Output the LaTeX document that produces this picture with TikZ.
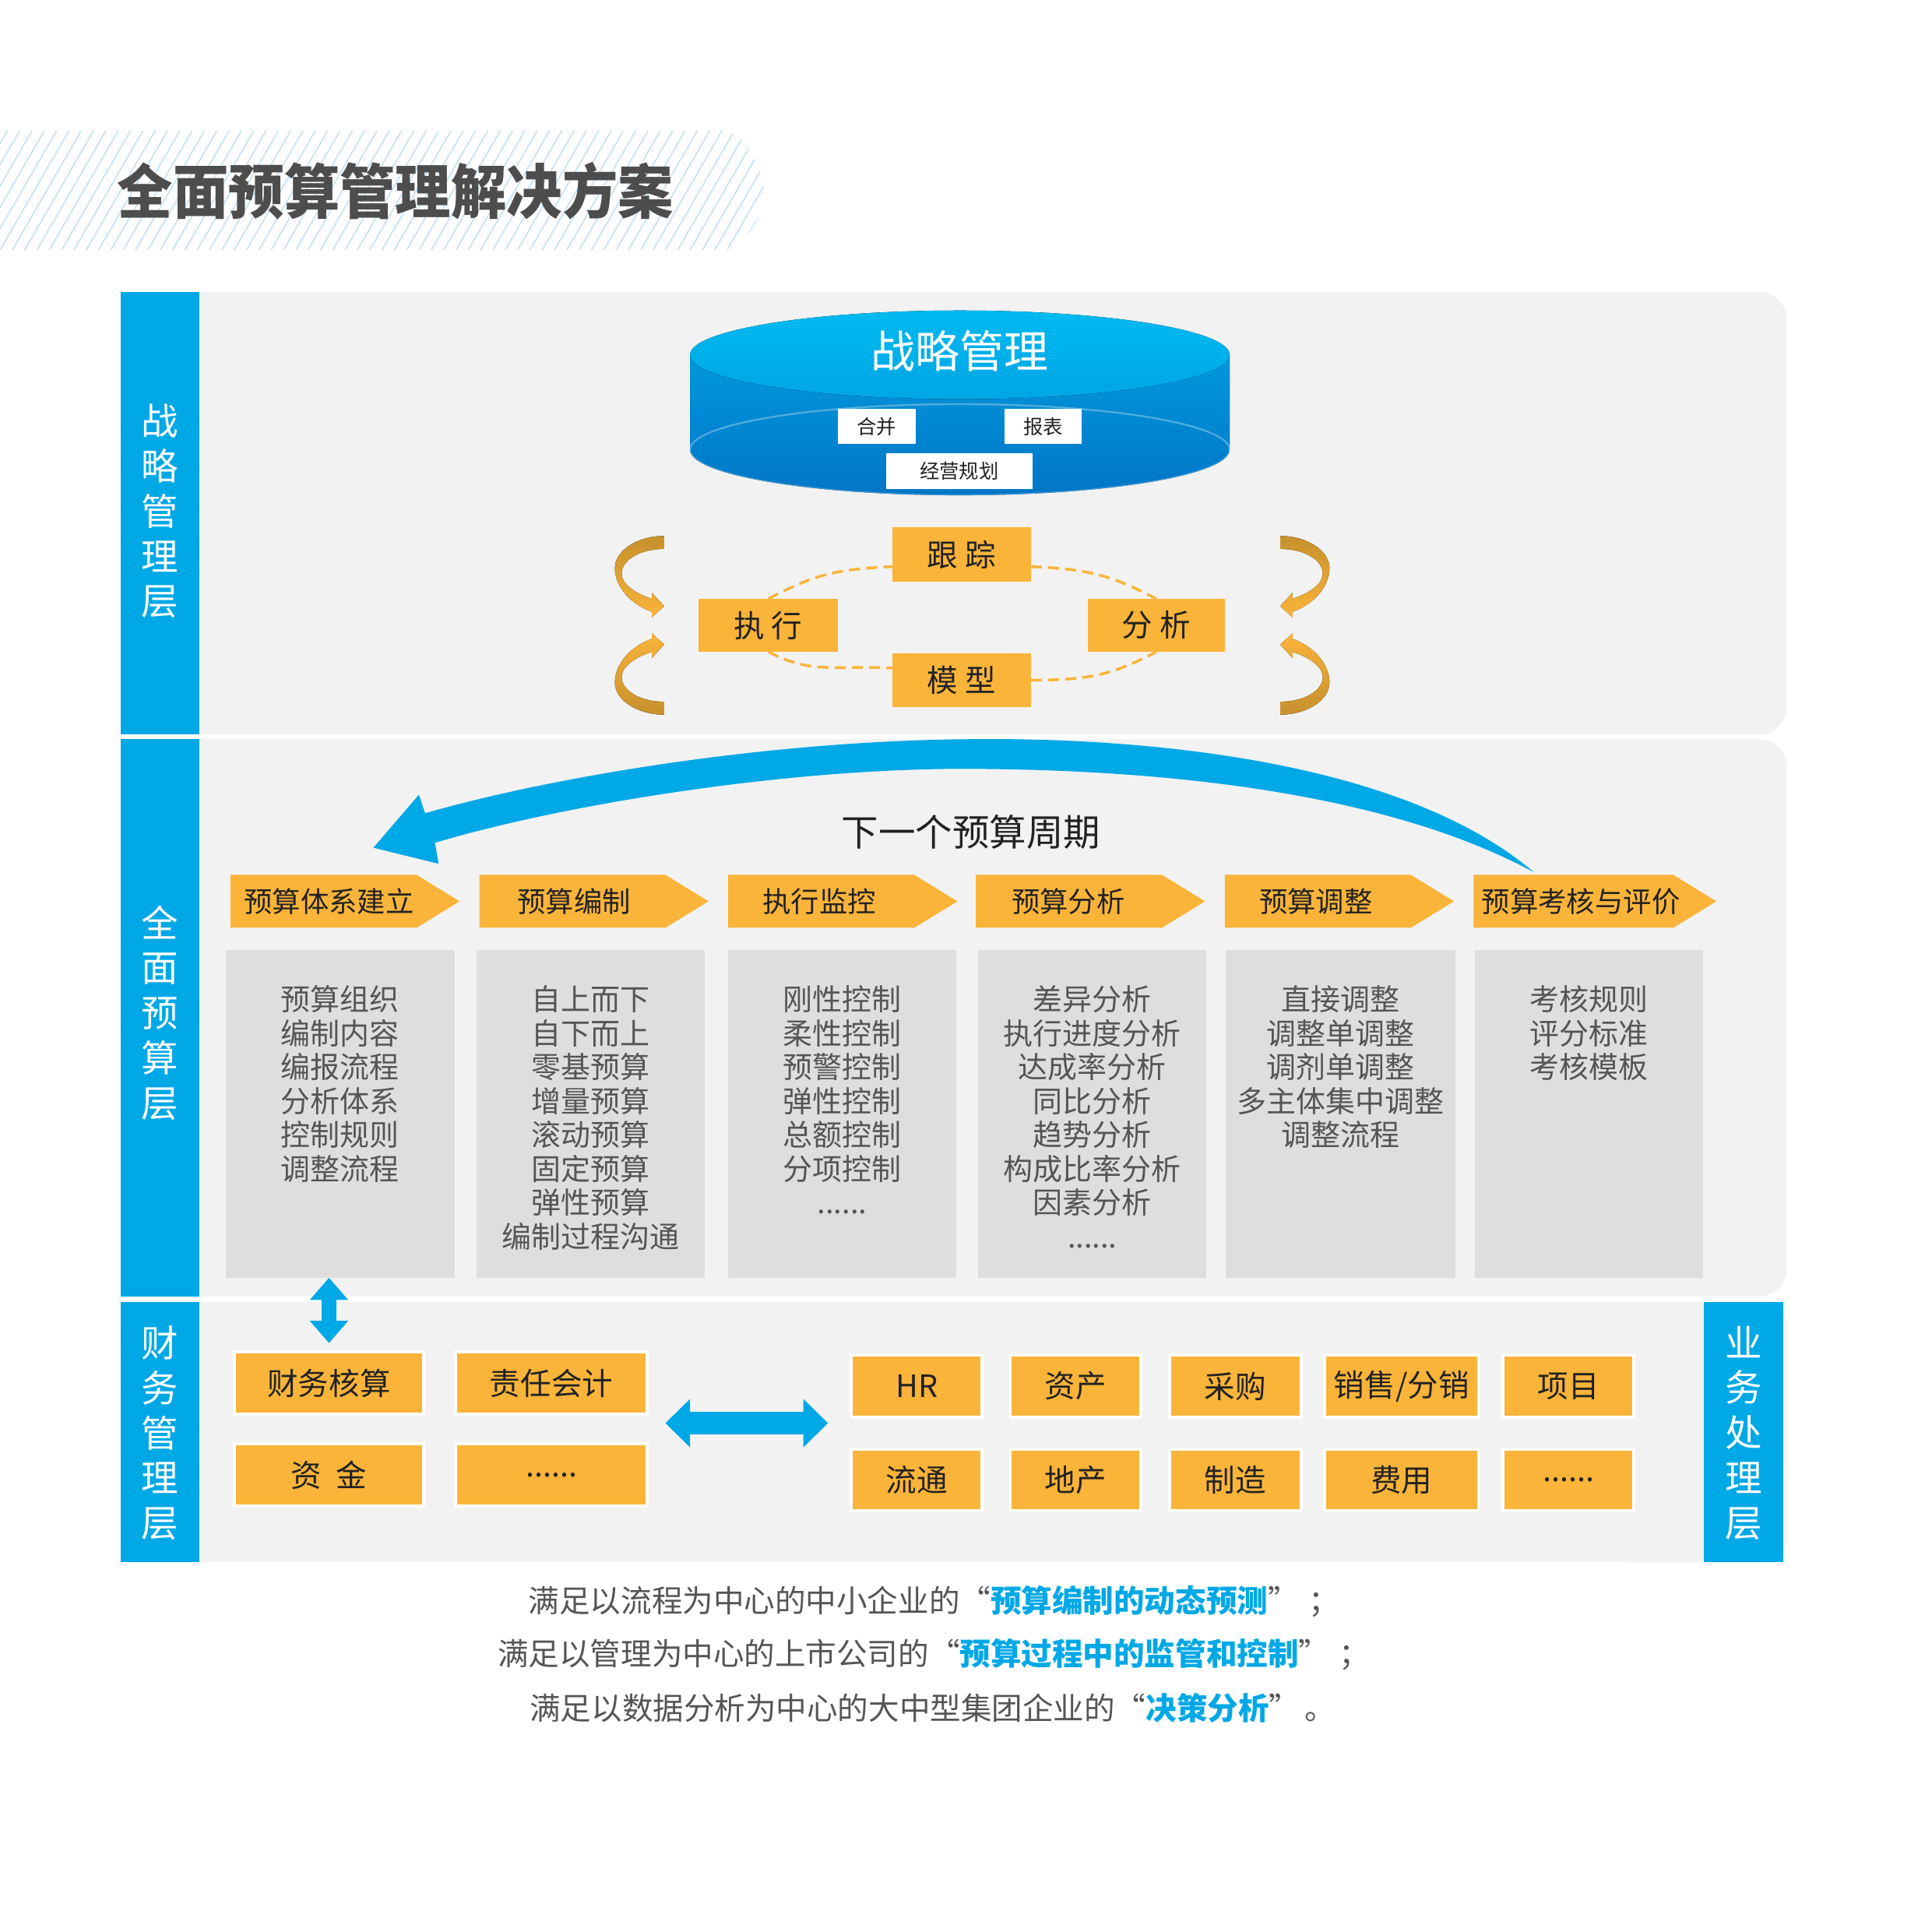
\documentclass[tikz,border=0pt]{standalone}
\usepackage{fontspec}
\newfontfamily\cjk{Noto Sans CJK SC}
\usetikzlibrary{arrows.meta,calc}
\definecolor{tblue}{RGB}{0,168,230}
\definecolor{torange}{RGB}{250,180,58}
\definecolor{panelgray}{RGB}{242,242,242}
\definecolor{boxgray}{RGB}{222,222,222}
\definecolor{darktext}{RGB}{34,34,34}
\definecolor{graytext}{RGB}{85,85,85}
\definecolor{titlegray}{RGB}{77,77,77}
\definecolor{hatchblue}{RGB}{182,221,242}
\definecolor{gold}{RGB}{198,144,44}
\definecolor{cyltop}{RGB}{0,186,240}
\definecolor{cylside}{RGB}{0,152,220}
\definecolor{cyldark}{RGB}{0,118,198}
\newcommand\fsz[2]{\fontsize{#1}{#2}\selectfont}
% crescent arrow: origin (#1,#2), x sign #3, y sign #4, top colour #5, bottom colour #6
\newcommand\cres[6]{%
\fill[top color=#5,bottom color=#6,middle color=#5!50!#6]
({#1+#3*0},{#2+#4*(-28)})
.. controls ({#1+#3*(-22)},{#2+#4*(-28)}) and ({#1+#3*(-40)},{#2+#4*(-16)}) .. ({#1+#3*(-40)},{#2+#4*(-2)})
.. controls ({#1+#3*(-40)},{#2+#4*14}) and ({#1+#3*(-26)},{#2+#4*28}) .. ({#1+#3*(-10)},{#2+#4*33.5})
-- ({#1+#3*(-10)},{#2+#4*38})
-- ({#1+#3*0},{#2+#4*29})
-- ({#1+#3*(-10)},{#2+#4*18})
-- ({#1+#3*(-10)},{#2+#4*23})
.. controls ({#1+#3*(-22)},{#2+#4*19}) and ({#1+#3*(-34)},{#2+#4*12}) .. ({#1+#3*(-34.5)},{#2+#4*3})
.. controls ({#1+#3*(-35)},{#2+#4*(-8)}) and ({#1+#3*(-20)},{#2+#4*(-17.5)}) .. ({#1+#3*0},{#2+#4*(-17.5)})
-- cycle;}
\newcommand\chev[5]{%
\fill[torange] (#2,710) -- ({#2+#3-35},710) -- ({#2+#3},731.5) -- ({#2+#3-35},753) -- (#2,753) -- cycle;
\node[chevtxt] (#1) at (#4,731.5) {#5};}
\begin{document}
\begin{tikzpicture}[x=1pt,y=-1pt,
  every node/.style={inner sep=0pt,outer sep=0pt},
  vlabel/.style={font=\cjk\fsz{30}{36.5},text=white,align=center},
  chevtxt/.style={font=\cjk\fsz{23}{26},text=darktext},
  cbox/.style={fill=boxgray,minimum width=186pt,minimum height=266pt},
  content/.style={font=\cjk\fsz{24}{27.5},text=graytext,align=center,anchor=north},
  loopbox/.style={fill=torange,minimum width=112pt,minimum height=44pt,font=\cjk\fsz{25}{28},text=darktext},
  wbox/.style={fill=white,minimum height=28pt,font=\cjk\fsz{16}{18},text=darktext},
  obox/.style={fill=torange,draw=white,line width=2.5pt,font=\cjk\fsz{25}{28},text=darktext,minimum height=51pt},
  dashloop/.style={torange,dash pattern=on 9pt off 5pt,line width=2.2pt},
  fatv/.style={tblue,line width=12pt,{Triangle[length=18pt,width=30pt]}-{Triangle[length=18pt,width=30pt]}},
  fath/.style={tblue,line width=18pt,{Triangle[length=20pt,width=38pt]}-{Triangle[length=20pt,width=38pt]}}]
\useasboundingbox (0,0) rectangle (1568,1568);
\fill[white] (0,0) rectangle (1568,1568);
% title band
\begin{scope}
\clip (0,106) -- (585,106) .. controls (606,106) and (620,140) .. (620,155) .. controls (620,172) and (606,203) .. (585,203) -- (0,203) -- cycle;
\foreach \i in {-120,-110,...,650} \draw[hatchblue,line width=0.8pt] (\i,203) -- ({\i+56},106);
\end{scope}
\node[font=\cjk\bfseries\fsz{48}{52},text=titlegray] (title) at (321,155) {\scalebox{0.94}[1]{全面预算管理解决方案}};
% panels
\fill[panelgray,rounded corners=22pt] (140,237) rectangle (1450,596);
\fill[panelgray,rounded corners=22pt] (140,600) rectangle (1450,1052);
\fill[panelgray!70!white,rounded corners=22pt] (1300,1057) rectangle (1452,1268);
\fill[panelgray] (162,1057) rectangle (1383,1268);
\fill[tblue] (98,237) rectangle (162,596);
\fill[tblue] (98,600) rectangle (162,1052);
\fill[tblue] (98,1057) rectangle (162,1268);
\fill[tblue] (1383,1057) rectangle (1447,1268);
\node[vlabel] (l1) at (130,415) {战\\略\\管\\理\\层};
\node[vlabel] (l2) at (130,822) {全\\面\\预\\算\\层};
\node[vlabel] (l3) at (130,1163) {财\\务\\管\\理\\层};
\node[vlabel] (l4) at (1415,1163) {业\\务\\处\\理\\层};
% cylinder
\fill[top color=cylside,bottom color=cyldark] (560,288) -- (560,365) arc[start angle=180,end angle=0,x radius=219,y radius=37] -- (998,288) -- cycle;
\draw[white,opacity=0.3,line width=1.5pt] (560,365) arc[start angle=180,end angle=360,x radius=219,y radius=37];
\draw[white,opacity=0.25,line width=1.5pt] (560,365) arc[start angle=180,end angle=0,x radius=219,y radius=37];
\fill[top color=cyltop,bottom color=cylside!60!cyltop] (779,288) ellipse[x radius=219,y radius=36];
\node[font=\cjk\fsz{36}{40},text=white] (zl) at (779,285) {战略管理};
\node[wbox,minimum width=63pt] (hb) at (711.5,346) {合并};
\node[wbox,minimum width=63pt] (bb) at (846.5,346) {报表};
\node[wbox,minimum width=119pt,minimum height=29pt] (jy) at (778.5,382.5) {经营规划};
% loop
\node[loopbox] (gz) at (780.5,450) {跟 踪};
\node[loopbox,minimum width=113pt,minimum height=43pt] (zx) at (623.5,507.5) {执 行};
\node[loopbox,minimum width=111pt,minimum height=43pt] (fx) at (938.5,507.5) {分 析};
\node[loopbox] (mx) at (780.5,552) {模 型};
\draw[dashloop] (zx.north) .. controls +(35,-18) and +(-50,2) .. (gz.190);
\draw[dashloop] (gz.-10) .. controls +(50,2) and +(-35,-18) .. (fx.north);
\draw[dashloop] (zx.south) .. controls +(35,18) and +(-50,-2) .. (mx.170);
\draw[dashloop] (mx.east) .. controls +(50,0) and +(-35,18) .. (fx.south);
\node[loopbox] at (gz) {跟 踪};
\node[loopbox,minimum width=113pt,minimum height=43pt] at (zx) {执 行};
\node[loopbox,minimum width=111pt,minimum height=43pt] at (fx) {分 析};
\node[loopbox] at (mx) {模 型};
\cres{539}{463}{1}{1}{gold}{torange}
\cres{539}{552}{1}{(-1)}{torange}{gold}
\cres{1039}{463}{(-1)}{1}{gold}{torange}
\cres{1039}{552}{(-1)}{(-1)}{torange}{gold}
% big curved arrow
\fill[tblue] (1245,708) .. controls (1130,610) and (900,598) .. (780,600) .. controls (620,602) and (450,630) .. (345,660) -- (340,645) -- (303,688) -- (356,701) -- (353,684) .. controls (460,652) and (640,624) .. (780,624) .. controls (930,624) and (1120,640) .. (1245,708) -- cycle;
\node[font=\cjk\fsz{30}{34},text=darktext] (next) at (788,675) {下一个预算周期};
% chevrons
\chev{s1}{187}{186}{267}{预算体系建立}
\chev{s2}{389}{186}{466}{预算编制}
\chev{s3}{591}{186}{665}{执行监控}
\chev{s4}{792}{186}{867}{预算分析}
\chev{s5}{994}{186}{1068}{预算调整}
\chev{s6}{1196}{197}{1283}{预算考核与评价}
% content boxes
\node[cbox] (c1) at (276,904) {};
\node[cbox,minimum width=185pt] (c2) at (479.5,904) {};
\node[cbox,minimum width=185pt] (c3) at (683.5,904) {};
\node[cbox,minimum width=185pt] (c4) at (886.5,904) {};
\node[cbox] (c5) at (1088,904) {};
\node[cbox,minimum width=185pt] (c6) at (1289.5,904) {};
\node[content] (t1) at ($(c1.north)+(0,29)$) {预算组织\\编制内容\\编报流程\\分析体系\\控制规则\\调整流程};
\node[content] (t2) at ($(c2.north)+(0,29)$) {自上而下\\自下而上\\零基预算\\增量预算\\滚动预算\\固定预算\\弹性预算\\编制过程沟通};
\node[content] (t3) at ($(c3.north)+(0,29)$) {刚性控制\\柔性控制\\预警控制\\弹性控制\\总额控制\\分项控制\\......};
\node[content] (t4) at ($(c4.north)+(0,29)$) {差异分析\\执行进度分析\\达成率分析\\同比分析\\趋势分析\\构成比率分析\\因素分析\\......};
\node[content] (t5) at ($(c5.north)+(0,29)$) {直接调整\\调整单调整\\调剂单调整\\多主体集中调整\\调整流程};
\node[content] (t6) at ($(c6.north)+(0,29)$) {考核规则\\评分标准\\考核模板};
% bottom boxes
\node[obox,minimum width=154pt] (fa1) at (267,1122.5) {财务核算};
\node[obox,minimum width=155pt] (zr) at (447.5,1122.5) {责任会计};
\node[obox,minimum width=154pt,minimum height=50pt] (zj) at (267,1197) {资\hspace{12pt}金};
\node[obox,minimum width=155pt,minimum height=50pt] (dt1) at (447.5,1197) {......};
\node[obox,minimum width=106pt,minimum height=50pt] (hr) at (744,1125) {HR};
\node[obox,minimum width=106pt,minimum height=50pt] (zc) at (873,1125) {资产};
\node[obox,minimum width=107pt,minimum height=50pt] (cg) at (1002.5,1125) {采购};
\node[obox,minimum width=125pt,minimum height=50pt] (xs) at (1137.5,1125) {销售/分销};
\node[obox,minimum width=106pt,minimum height=50pt] (xm) at (1273,1125) {项目};
\node[obox,minimum width=106pt,minimum height=50pt] (lt) at (744,1201) {流通};
\node[obox,minimum width=106pt,minimum height=50pt] (dc) at (873,1201) {地产};
\node[obox,minimum width=107pt,minimum height=50pt] (zz) at (1002.5,1201) {制造};
\node[obox,minimum width=125pt,minimum height=50pt] (fy) at (1137.5,1201) {费用};
\node[obox,minimum width=106pt,minimum height=50pt] (dt2) at (1273,1201) {......};
% arrows
\draw[fatv] (c1.south -| fa1.north) -- ($(fa1.north)+(0,-7)$);
\coordinate (hl) at (540,1155);
\coordinate (hrr) at (672,1155);
\draw[fath] (hl) -- (hrr);
% bottom text
\node[font=\cjk\fsz{25}{28},text=graytext] (b1) at (758,1300) {满足以流程为中心的中小企业的“\textcolor{tblue}{\bfseries 预算编制的动态预测}”\hspace{8pt}；};
\node[font=\cjk\fsz{25}{28},text=graytext] (b2) at (758,1343) {满足以管理为中心的上市公司的“\textcolor{tblue}{\bfseries 预算过程中的监管和控制}”\hspace{8pt}；};
\node[font=\cjk\fsz{25}{28},text=graytext] (b3) at (757,1386) {满足以数据分析为中心的大中型集团企业的“\textcolor{tblue}{\bfseries 决策分析}”\hspace{4pt}。};
\end{tikzpicture}
\end{document}
